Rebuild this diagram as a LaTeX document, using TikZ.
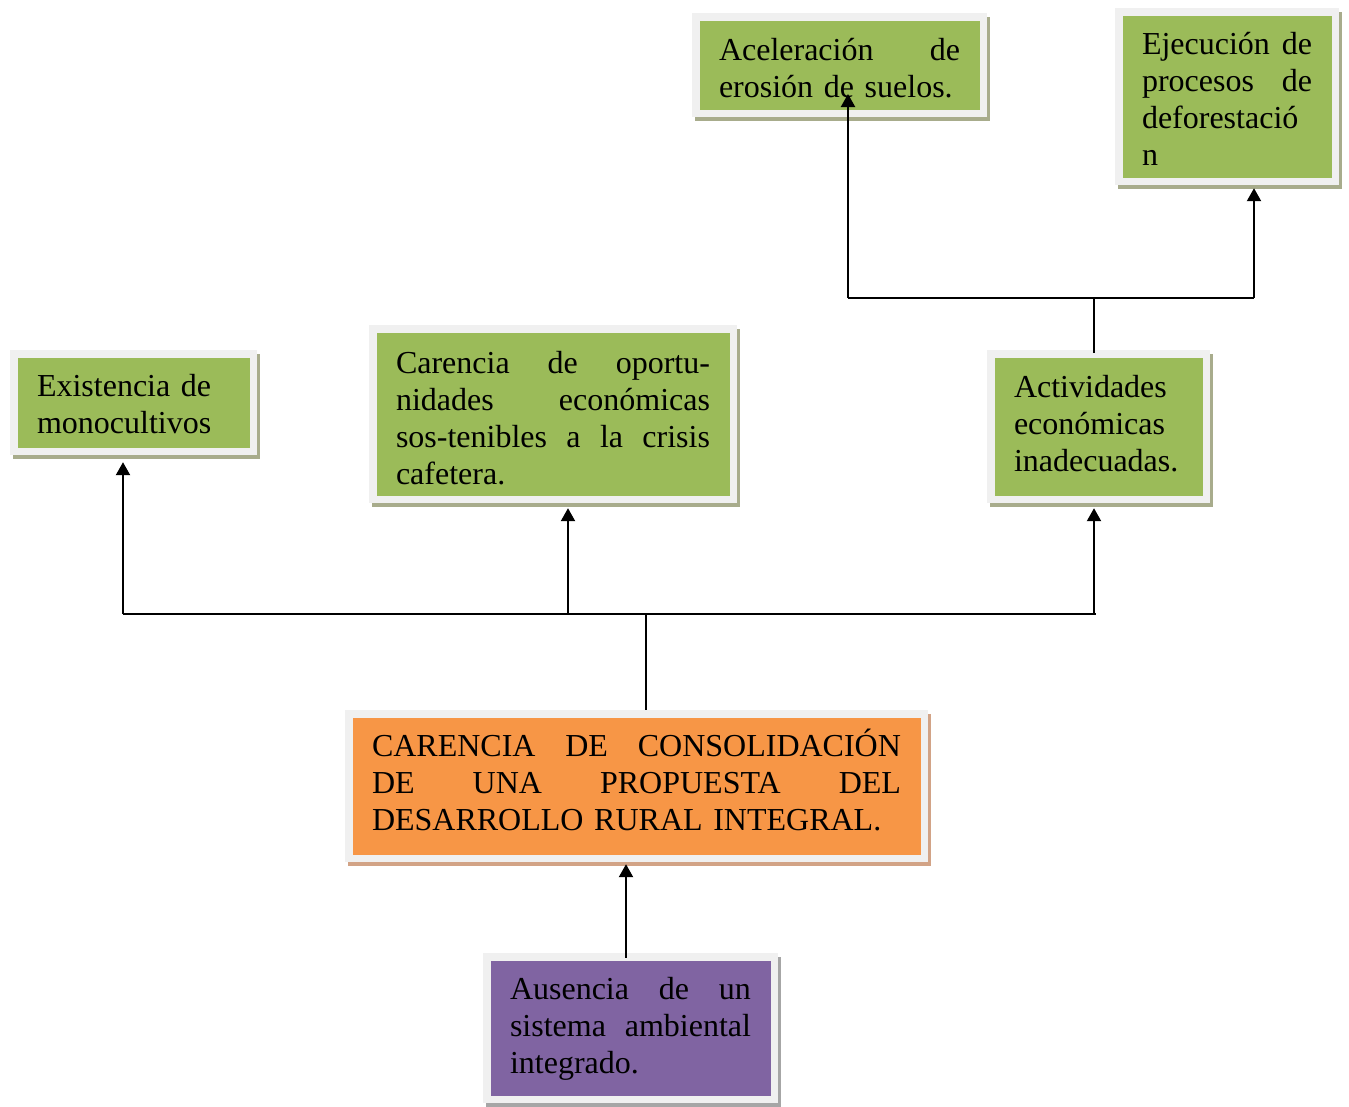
\documentclass[tikz,border=0pt]{standalone}
\usepackage{fontspec}
\setmainfont{Liberation Serif}
\usetikzlibrary{shadows,arrows.meta}
\definecolor{framegray}{HTML}{F0F0F0}
\definecolor{boxgreen}{HTML}{9BBB59}
\definecolor{boxorange}{HTML}{F79646}
\definecolor{boxpurple}{HTML}{8064A2}
\definecolor{shgreen}{HTML}{A8AC8C}
\definecolor{shorange}{HTML}{D2A386}
\definecolor{shpurple}{HTML}{A6A6A6}
\newcommand{\jline}[1]{\makebox[\linewidth][s]{\spaceskip=0.25em plus 1fil\relax #1}}
\tikzset{
  cbox/.style n args={2}{
    draw=none, fill=framegray, rectangle, inner sep=0pt,
    general shadow={fill=#2, shadow xshift=3pt, shadow yshift=-4pt},
    path picture={\fill[#1] ([shift={(7.5pt,-7.5pt)}]path picture bounding box.north west) rectangle ([shift={(-7.5pt,7.5pt)}]path picture bounding box.south east);}
  },
  txt/.style={inner sep=0pt, align=left, anchor=center, font=\fontsize{32}{37}\selectfont},
  conn/.style={line width=2.2pt, black},
  arr/.style={conn, -{Triangle[width=14pt,length=13pt]}}
}
\begin{document}
\begin{tikzpicture}[x=1pt,y=-1pt]
\useasboundingbox[fill=white] (0,0) rectangle (1349,1106);

% boxes
\node[cbox={boxgreen}{shgreen}, minimum width=295pt, minimum height=104pt] (n1) at (839.5,65) {};
\node[cbox={boxgreen}{shgreen}, minimum width=224pt, minimum height=177pt] (n2) at (1227,96.5) {};
\node[cbox={boxgreen}{shgreen}, minimum width=247pt, minimum height=105pt] (n3) at (133.5,402.5) {};
\node[cbox={boxgreen}{shgreen}, minimum width=368pt, minimum height=178pt] (n4) at (553,414) {};
\node[cbox={boxgreen}{shgreen}, minimum width=223pt, minimum height=153pt] (n5) at (1098.5,426.5) {};
\node[cbox={boxorange}{shorange}, minimum width=583pt, minimum height=152pt] (n6) at (636.5,786) {};
\node[cbox={boxpurple}{shpurple}, minimum width=295pt, minimum height=150pt] (n7) at (630.5,1028) {};

% texts
\node[txt, text width=241pt, yshift=-3pt] (t1) at (n1.center)
  {\jline{Aceleración de}\\erosión de suelos.};
\node[txt, text width=170pt, yshift=-2pt] (t2) at (n2.center)
  {\jline{Ejecución de}\\\jline{procesos de}\\deforestació\\n};
\node[txt, text width=193pt, yshift=-2pt] (t3) at (n3.center)
  {Existencia de\\monocultivos};
\node[txt, text width=314pt, yshift=-4pt] (t4) at (n4.center)
  {\jline{Carencia de oportu-}\\\jline{nidades económicas}\\\jline{sos-tenibles a la crisis}\\cafetera.};
\node[txt, text width=169pt, yshift=3pt] (t5) at (n5.center)
  {Actividades\\económicas\\inadecuadas.};
\node[txt, text width=529pt, yshift=6pt] (t6) at (n6.center)
  {\jline{CARENCIA DE CONSOLIDACIÓN}\\\jline{DE UNA PROPUESTA DEL}\\DESARROLLO RURAL INTEGRAL.};
\node[txt, text width=241pt, yshift=-1pt] (t7) at (n7.center)
  {\jline{Ausencia de un}\\\jline{sistema ambiental}\\integrado.};

% lower tree
\coordinate (ja) at (646,614);
\coordinate (hl) at (123,614);
\coordinate (hm) at (568,614);
\coordinate (hr) at (1094,614);
\coordinate (b7) at (626,958);
\draw[conn] ([xshift=9.5pt]n6.north) -- (ja);
\draw[conn] (hl) -- ([xshift=2pt]hr);
\draw[arr] (hl) -- ([yshift=-7pt]n3.south -| hl);
\draw[arr] (hm) -- ([yshift=-5pt]n4.south -| hm);
\draw[arr] (hr) -- ([yshift=-5pt]n5.south -| hr);
\draw[arr] (n7.north -| b7) ++(0,5) -- ([yshift=-2pt]n6.south -| b7);

% upper tree
\coordinate (jt) at (1094,298);
\coordinate (tl) at (848,298);
\coordinate (tr) at (1254,298);
\draw[conn] ([xshift=-4.5pt,yshift=-3pt]n5.north) -- (jt);
\draw[conn] (tl) -- (tr);
\draw[arr] (tl) -- ([xshift=8.5pt,yshift=-29pt]n1.center);
\draw[arr] (tr) -- ([yshift=-3pt]n2.south -| tr);
\end{tikzpicture}
\end{document}
